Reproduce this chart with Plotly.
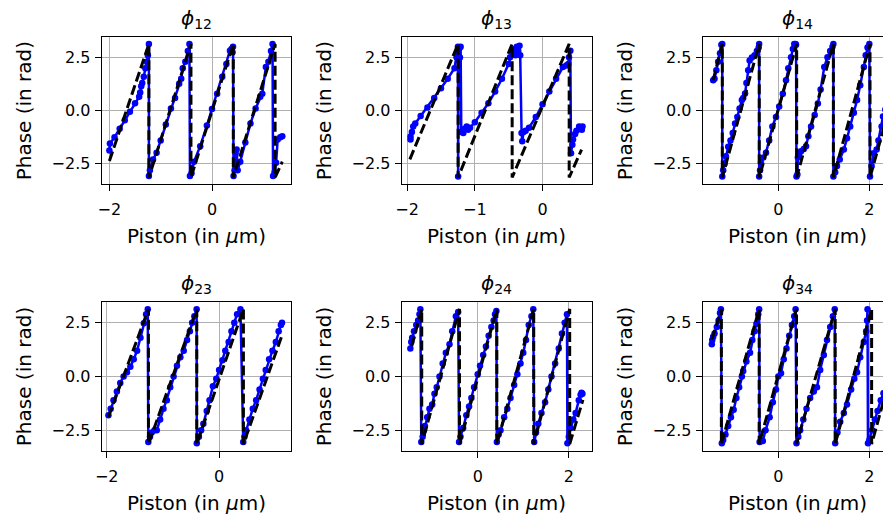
import plotly.graph_objects as go

# ---------------- data ----------------
titles = ["12", "13", "14", "23", "24", "34"]

# theoretical sawtooth vertices (black dashed)
th12_x = [-2.0, -1.23, -1.23, -0.41, -0.41, 0.415, 0.415, 1.23, 1.23, 1.37]
th12_y = [-2.37, 3.14, -3.14, 3.14, -3.14, 3.14, -3.14, 3.14, -3.14, -2.4]
th13_x = [-1.96, -1.247, -1.247, -0.449, -0.449, 0.393, 0.393, 0.576]
th13_y = [-2.29, 3.14, -3.14, 3.14, -3.14, 3.14, -3.14, -1.83]
th14_x = [-1.43, -1.23, -1.23, -0.418, -0.418, 0.404, 0.404, 1.21, 1.21, 2.015, 2.015, 2.5]
th14_y = [1.43, 3.14, -3.14, 3.14, -3.14, 3.14, -3.14, 3.14, -3.14, 3.14, -3.14, 0.6]
th23_x = [-1.97, -1.258, -1.258, -0.397, -0.397, 0.433, 0.433, 1.115]
th23_y = [-1.88, 3.14, -3.14, 3.14, -3.14, 3.14, -3.14, 1.88]
th24_x = [-1.45, -1.23, -1.23, -0.40, -0.40, 0.42, 0.42, 1.23, 1.23, 2.02, 2.02, 2.31]
th24_y = [1.41, 3.14, -3.14, 3.14, -3.14, 3.14, -3.14, 3.14, -3.14, 3.14, -3.14, -1.09]
th34_x = [-1.46, -1.25, -1.25, -0.42, -0.42, 0.40, 0.40, 1.25, 1.25, 2.05, 2.05, 2.5]
th34_y = [1.72, 3.14, -3.14, 3.14, -3.14, 3.14, -3.14, 3.14, -3.14, 3.14, -3.14, 0.3]

# measured phases (blue)
m12_x = [-2.00, -1.99, -1.90, -1.80, -1.70, -1.60, -1.50, -1.42, -1.40, -1.38, -1.36, -1.33, -1.30, -1.27,
         -1.25, -1.23, -1.23, -1.21, -1.15, -1.08, -1.00, -0.90, -0.80, -0.72, -0.64, -0.60, -0.57, -0.52,
         -0.47, -0.44, -0.43, -0.40, -0.35, -0.23, -0.10, 0.00, 0.10, 0.20, 0.28, 0.35, 0.38, 0.40, 0.41,
         0.42, 0.44, 0.46, 0.48, 0.50, 0.55, 0.65, 0.75, 0.85, 0.94, 0.98, 1.05, 1.10, 1.15, 1.18, 1.19,
         1.22, 1.25, 1.28, 1.33, 1.37]
m12_y = [-1.87, -1.55, -1.25, -0.85, -0.45, -0.05, 0.35, 0.65, 0.85, 1.15, 1.30, 1.60, 2.00, 2.30,
         2.60, 3.13, -3.07, -2.80, -2.30, -1.98, -1.40, -0.65, 0.10, 0.60, 1.27, 1.50, 2.00, 2.30,
         2.80, 3.13, -3.07, -2.95, -2.40, -1.67, -0.70, 0.08, 0.80, 1.60, 2.20, 2.82, 2.90, 2.75, 3.00,
         -3.07, -2.80, -2.00, -1.83, -2.80, -2.40, -1.50, -0.60, 0.10, 0.65, 0.80, 2.05, 2.30, 2.80, 3.13, -3.07,
         -2.90, -2.45, -1.36, -1.25, -1.20]

m13_x = [-1.95, -1.95, -1.93, -1.91, -1.88, -1.80, -1.70, -1.60, -1.50, -1.40, -1.30, -1.27, -1.26, -1.25,
         -1.247, -1.245, -1.24, -1.22, -1.22, -1.21, -1.20, -1.17, -1.15, -1.12, -1.10, -1.07, -1.00, -0.90,
         -0.80, -0.70, -0.60, -0.50, -0.48, -0.45, -0.42, -0.40, -0.38, -0.36, -0.34, -0.33, -0.31, -0.30,
         -0.28, -0.25, -0.20, -0.10, 0.00, 0.10, 0.20, 0.30, 0.35, 0.38, 0.39, 0.41, 0.42, 0.44, 0.45, 0.48,
         0.50, 0.54, 0.56, 0.58, 0.59]
m13_y = [-1.21, -1.36, -1.00, -0.74, -0.60, -0.25, 0.15, 0.60, 1.05, 1.50, 2.00, 2.51, 2.70, 3.00,
         -3.10, 2.60, 2.90, 2.97, 2.50, 3.00, -1.00, -1.05, -0.85, -0.74, -0.90, -0.80, -0.55, -0.10,
         0.35, 0.90, 1.50, 2.20, 2.51, 2.80, 2.90, 2.60, 3.00, 2.80, 3.05, 2.60, -1.05, -1.44,
         -1.00, -0.95, -0.80, -0.30, 0.30, 0.90, 1.50, 2.05, 2.12, 2.20, 2.51, 2.82, -2.00, -1.60, -1.36, -1.10,
         -0.95, -0.74, -0.80, -0.90, -0.75]

m14_x = [-1.43, -1.40, -1.36, -1.32, -1.28, -1.25, -1.23, -1.23, -1.21, -1.18, -1.15, -1.10, -1.05, -1.00,
         -0.95, -0.90, -0.85, -0.80, -0.77, -0.73, -0.70, -0.66, -0.63, -0.58, -0.52, -0.47, -0.43, -0.42,
         -0.42, -0.40, -0.38, -0.33, -0.27, -0.20, -0.13, -0.05, 0.02, 0.10, 0.17, 0.22, 0.28, 0.32, 0.35,
         0.38, 0.39, 0.40, 0.42, 0.43, 0.46, 0.50, 0.56, 0.61, 0.66, 0.72, 0.80, 0.87, 0.93, 1.01, 1.08,
         1.14, 1.19, 1.21, 1.21, 1.25, 1.29, 1.35, 1.44, 1.51, 1.58, 1.66, 1.73, 1.80, 1.88, 1.92, 1.96,
         2.00, 2.015, 2.05, 2.10, 2.16, 2.20, 2.27, 2.30, 2.35, 2.40]
m14_y = [1.43, 1.50, 1.90, 2.30, 2.70, 3.10, 3.13, -3.10, -2.80, -2.50, -2.14, -1.70, -1.40, -1.05,
         -0.60, -0.30, 0.10, 0.50, 0.60, 0.81, 1.30, 1.90, 2.36, 2.50, 2.60, 2.80, 2.97, 3.13,
         -3.10, -2.80, -2.45, -2.20, -1.98, -1.40, -0.74, -0.30, 0.19, 0.80, 1.43, 2.00, 2.51, 2.90, 3.13,
         3.13, 3.10, -3.10, -3.00, -2.20, -2.00, -1.91, -1.80, -1.67, -1.20, -0.74, -0.20, 0.34, 1.00, 2.05, 2.51,
         2.80, 3.00, 3.13, -3.10, -2.90, -2.60, -2.30, -1.83, -1.30, -0.74, -0.10, 0.50, 1.20, 2.05, 2.60, 2.97,
         3.13, -3.10, -2.60, -2.00, -1.83, -1.40, -0.74, -0.28, 0.05, 0.40]

m23_x = [-1.97, -1.93, -1.88, -1.82, -1.76, -1.70, -1.64, -1.58, -1.52, -1.46, -1.40, -1.34, -1.30, -1.27,
         -1.26, -1.23, -1.20, -1.15, -1.11, -1.05, -0.99, -0.93, -0.87, -0.81, -0.75, -0.69, -0.63, -0.57,
         -0.52, -0.48, -0.44, -0.40, -0.397, -0.36, -0.32, -0.28, -0.22, -0.17, -0.11, -0.05, 0.00, 0.06,
         0.11, 0.17, 0.22, 0.27, 0.32, 0.38, 0.43, 0.45, 0.48, 0.54, 0.60, 0.66, 0.72, 0.78, 0.83, 0.89,
         0.95, 1.01, 1.06, 1.10, 1.12]
m23_y = [-1.80, -1.50, -1.10, -0.70, -0.30, 0.00, 0.20, 0.45, 0.80, 1.20, 1.80, 2.48, 2.90, 3.13,
         -3.05, -2.80, -2.60, -2.50, -2.50, -2.00, -1.50, -1.10, -0.50, 0.00, 0.50, 0.90, 1.20, 1.70,
         2.10, 2.50, 2.80, 3.13, -3.10, -2.80, -2.50, -2.20, -1.60, -1.10, -0.45, -0.10, 0.30, 0.75,
         1.20, 1.60, 2.10, 2.50, 2.90, 3.13, -3.05, -2.80, -2.50, -2.00, -1.50, -1.10, -0.60, -0.10, 0.30, 0.80,
         1.20, 1.60, 2.10, 2.40, 2.50]

m24_x = [-1.48, -1.46, -1.44, -1.40, -1.35, -1.31, -1.28, -1.26, -1.24, -1.21, -1.18, -1.16, -1.11, -1.06,
         -1.00, -0.95, -0.90, -0.84, -0.77, -0.70, -0.62, -0.56, -0.48, -0.43, -0.41, -0.38, -0.32, -0.25,
         -0.19, -0.14, -0.08, 0.00, 0.05, 0.12, 0.18, 0.24, 0.30, 0.35, 0.38, 0.41, 0.42, 0.46, 0.50, 0.58,
         0.65, 0.72, 0.80, 0.87, 0.94, 1.00, 1.06, 1.12, 1.18, 1.22, 1.24, 1.28, 1.33, 1.40, 1.48, 1.55,
         1.62, 1.70, 1.78, 1.85, 1.91, 1.96, 1.97, 2.00, 2.04, 2.10, 2.15, 2.22, 2.26, 2.28, 2.30]
m24_y = [1.30, 1.60, 1.80, 2.10, 2.40, 2.60, 2.90, 3.13, -3.05, -2.80, -2.50, -2.30, -1.90, -1.50,
         -1.30, -0.80, -0.50, 0.00, 0.60, 1.10, 1.50, 2.10, 2.80, 3.00, -3.05, -2.80, -2.40, -1.80,
         -1.40, -1.00, -0.50, 0.10, 0.50, 1.00, 1.40, 1.90, 2.30, 2.60, 2.90, 3.05, -3.05, -2.70, -2.50, -1.90,
         -1.50, -1.00, -0.40, 0.10, 0.60, 1.10, 1.70, 2.40, 2.80, 3.13, -3.05, -2.60, -2.20, -1.70, -1.20, -0.60,
         0.00, 0.60, 1.30, 2.00, 2.50, 2.90, -3.10, -2.80, -2.40, -2.00, -1.70, -1.10, -0.85, -0.75, -0.80]

m34_x = [-1.46, -1.45, -1.43, -1.40, -1.35, -1.31, -1.28, -1.26, -1.24, -1.21, -1.16, -1.10, -1.04, -0.98,
         -0.92, -0.86, -0.80, -0.77, -0.70, -0.62, -0.57, -0.52, -0.48, -0.44, -0.42, -0.41, -0.37, -0.34,
         -0.28, -0.19, -0.12, -0.05, 0.00, 0.06, 0.12, 0.18, 0.24, 0.30, 0.35, 0.38, 0.40, 0.44, 0.48, 0.55,
         0.62, 0.70, 0.78, 0.85, 0.92, 1.00, 1.07, 1.14, 1.20, 1.24, 1.25, 1.30, 1.36, 1.44, 1.51, 1.60,
         1.67, 1.73, 1.80, 1.88, 1.93, 1.95, 1.96, 1.97, 2.00, 2.06, 2.12, 2.18, 2.25, 2.31, 2.38]
m34_y = [1.50, 1.70, 1.85, 2.00, 2.30, 2.60, 2.95, 3.13, -3.10, -2.95, -2.70, -2.30, -1.90, -1.55,
         -1.00, -0.50, 0.00, 0.25, 0.70, 1.10, 1.70, 2.10, 2.45, 2.90, 3.13, -3.05, -3.00, -3.00,
         -2.50, -1.90, -1.20, -0.60, 0.00, 0.15, 0.80, 1.30, 1.90, 2.40, 2.80, 3.13, -3.10, -2.80, -2.50, -2.00,
         -1.50, -1.00, -0.70, -0.50, 0.30, 1.00, 1.70, 2.30, 2.80, 3.13, -3.10, -2.60, -2.10, -1.70, -1.30, -0.60,
         -0.10, 0.20, 0.90, 1.60, 2.10, 2.60, 3.13, -3.10, -2.95, -2.50, -2.00, -1.60, -1.10, -0.78, -0.30]

theory_x = [th12_x, th13_x, th14_x, th23_x, th24_x, th34_x]
theory_y = [th12_y, th13_y, th14_y, th23_y, th24_y, th34_y]
meas_x = [m12_x, m13_x, m14_x, m23_x, m24_x, m34_x]
meas_y = [m12_y, m13_y, m14_y, m23_y, m24_y, m34_y]

x_ticks = [[-2, 0], [-2, -1, 0], [0, 2], [-2, 0], [0, 2], [0, 2]]
y_ticks = [-2.5, 0.0, 2.5]
y_ticktext = ["\u22122.5", "0.0", "2.5"]

# ---------------- layout (pixel geometry) ----------------
W, H = 883, 517
col_px = [(101.7, 291.0), (401.7, 592.0), (702.7, 883.0)]
row_px = [(37.3, 184.0), (302.3, 450.7)]
x_ranges = [[-2.15, 1.54], [-2.08, 0.73], [-1.66, 2.30],
            [-2.09, 1.28], [-1.67, 2.51], [-1.66, 2.30]]
y_range = [-3.45, 3.45]

FONT = "DejaVu Sans"
fig = go.Figure()
annotations = []

for i in range(6):
    r, c = divmod(i, 3)
    n = "" if i == 0 else str(i + 1)
    xa, ya = "x" + n, "y" + n
    fig.add_trace(go.Scatter(x=meas_x[i], y=meas_y[i], mode="lines+markers",
                             line=dict(color="#0000ff", width=2.5),
                             marker=dict(color="#0000ff", size=6.5),
                             xaxis=xa, yaxis=ya, showlegend=False))
    fig.add_trace(go.Scatter(x=theory_x[i], y=theory_y[i], mode="lines",
                             line=dict(color="black", width=3, dash="10px,4px"),
                             xaxis=xa, yaxis=ya, showlegend=False))
    x0, x1 = col_px[c]
    y0, y1 = row_px[r]
    xdom = [x0 / W, min(x1 / W, 1.0)]
    ydom = [1 - y1 / H, 1 - y0 / H]
    common = dict(showline=True, linecolor="black", linewidth=1.1,
                  ticks="outside", ticklen=6, tickwidth=1.1, tickcolor="black",
                  showgrid=True, gridcolor="#b0b0b0", gridwidth=1.1,
                  zeroline=False, automargin=False,
                  tickfont=dict(family=FONT, size=16, color="black"))
    fig.layout["xaxis" + n] = dict(domain=xdom, range=x_ranges[i], anchor=ya,
                                   mirror=True, tickmode="array", tickvals=x_ticks[i],
                                   ticktext=[("\u2212" + str(-v)) if v < 0 else str(v) for v in x_ticks[i]],
                                   ticklabelstandoff=5, **common)
    fig.layout["yaxis" + n] = dict(domain=ydom, range=y_range, anchor=xa,
                                   mirror=(c != 2), tickmode="array", tickvals=y_ticks,
                                   ticktext=y_ticktext, ticklabelstandoff=1, **common)
    cx = (x0 + (x0 + 190.0)) / 2
    annotations.append(dict(text="<i>\u03d5</i><sub>" + titles[i] + "</sub>",
                            x=cx / W, y=1 - (y0 - 18) / H, xref="paper", yref="paper",
                            xanchor="center", yanchor="middle", showarrow=False,
                            font=dict(family=FONT, size=20, color="black")))
    annotations.append(dict(text="Piston (in <i>\u03bc</i>m)",
                            x=cx / W, y=1 - (y1 + 52) / H, xref="paper", yref="paper",
                            xanchor="center", yanchor="middle", showarrow=False,
                            font=dict(family=FONT, size=20, color="black")))
    annotations.append(dict(text="Phase (in rad)", textangle=-90,
                            x=(x0 - 78) / W, y=1 - ((y0 + y1) / 2) / H, xref="paper", yref="paper",
                            xanchor="center", yanchor="middle", showarrow=False,
                            font=dict(family=FONT, size=20, color="black")))

fig.update_layout(width=W, height=H, margin=dict(l=0, r=0, t=0, b=0),
                  paper_bgcolor="white", plot_bgcolor="white",
                  annotations=annotations, font=dict(family=FONT))

fig.write_html("out.html", config={"displayModeBar": False},
               post_script="document.body.style.margin='0';")
